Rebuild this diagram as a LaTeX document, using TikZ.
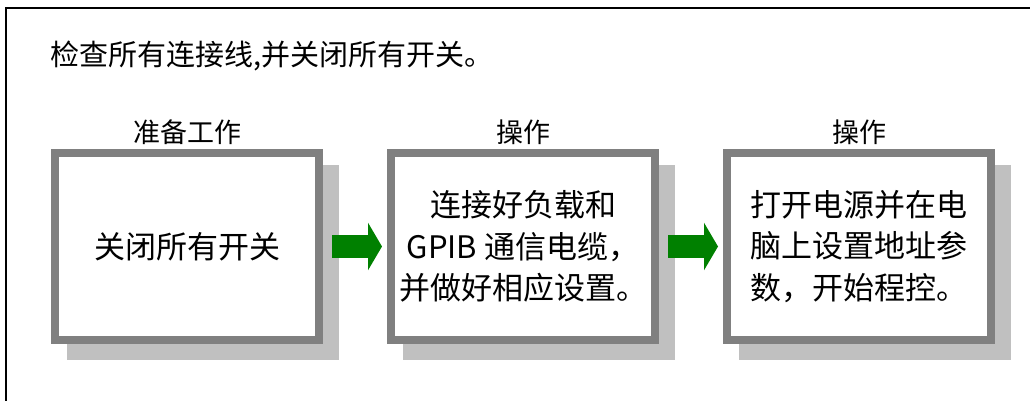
\documentclass[tikz,border=0pt]{standalone}
\usepackage{fontspec}
\setmainfont{Noto Sans CJK SC}
\usepackage{tikz}
\usetikzlibrary{arrows.meta,positioning,shadows}
\definecolor{FrameGray}{HTML}{808080}
\definecolor{ShadowGray}{HTML}{C0C0C0}
\definecolor{FlowGreen}{HTML}{008000}
\tikzset{%
  stepbox/.style={draw=FrameGray,line width=8pt,fill=white,
    minimum width=264pt,minimum height=187pt,inner sep=0pt,align=center,
    font=\fontsize{31}{41.5}\selectfont,
    drop shadow={shadow xshift=16pt,shadow yshift=-16pt,opacity=1,
      fill=ShadowGray,draw=ShadowGray,line width=8pt}},
  steplabel/.style={inner sep=0pt,font=\fontsize{27}{32}\selectfont},
  flow/.style={-{Triangle[length=14pt,width=47pt]},line width=23pt,FlowGreen}
}

\begin{document}
\begin{tikzpicture}[x=1pt,y=-1pt,node distance=64pt]
  \useasboundingbox (0,0) rectangle (1030,401);
  \draw[line width=2pt] (1040,8) -| (6,410);
  \node[anchor=west,inner sep=0pt,font=\fontsize{29}{34}\selectfont] (check) at (50,56) {检查所有连接线,并关闭所有开关。};
  \node[stepbox] (prep) at (187,246.5) {关闭所有开关};
  \node[stepbox, right=of prep] (cable) {连接好负载和\\GPIB 通信电缆，\\并做好相应设置。};
  \node[stepbox, right=of cable, align=left] (power) {打开电源并在电\\脑上设置地址参\\数，开始程控。};
  \node[steplabel, above=4pt of prep] (preplabel) {准备工作};
  \node[steplabel, above=4pt of cable] (cablelabel) {操作};
  \node[steplabel, above=4pt of power] (powerlabel) {操作};
  \draw[flow] ([xshift=9pt]prep.east) -- ([xshift=-5pt]cable.west);
  \draw[flow] ([xshift=9pt]cable.east) -- ([xshift=-5pt]power.west);
\end{tikzpicture}
\end{document}
